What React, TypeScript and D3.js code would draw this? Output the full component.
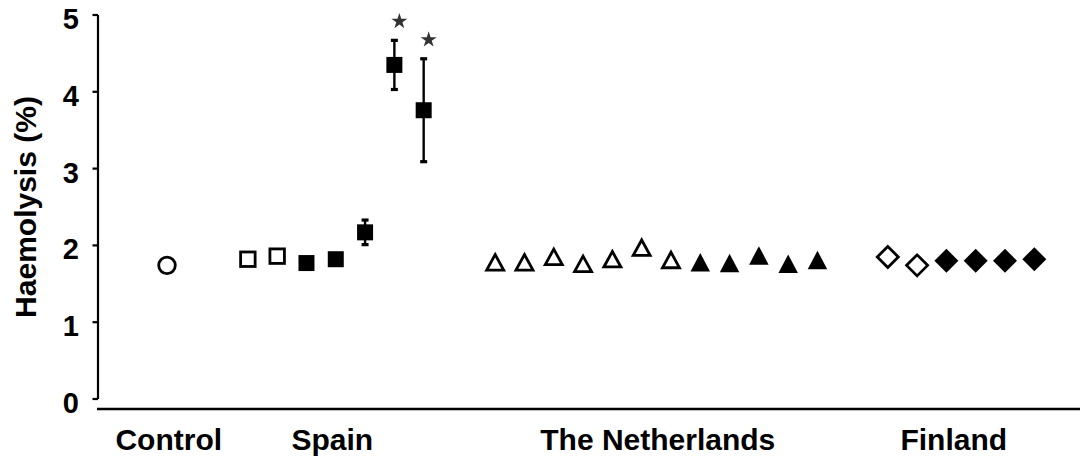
import React from "react";
import * as d3 from "d3";

// ---- data ----
const groups = ["Control", "Spain", "The Netherlands", "Finland"];
// position (in marker slots) where each group's first marker sits
const groupStart = [0, 2.76, 11.2, 24.6];
// position (in marker slots) of each group's label centre
const groupLabelSlot = [0.06, 5.64, 16.75, 26.85];

const controlValues = [1.74];
const controlFilled = [false];

const spainValues = [1.82, 1.86, 1.77, 1.82, 2.17, 4.35, 3.76];
const spainErrors = [0, 0, 0, 0, 0.16, 0.32, 0.67];
const spainFilled = [false, false, true, true, true, true, true];
const spainSignificant = [false, false, false, false, false, true, true];

const nlValues = [1.78, 1.78, 1.85, 1.76, 1.82, 1.97, 1.81, 1.78, 1.77, 1.87, 1.76, 1.81];
const nlFilled = [false, false, false, false, false, false, false, true, true, true, true, true];

const finValues = [1.85, 1.74, 1.8, 1.8, 1.8, 1.82];
const finFilled = [false, false, true, true, true, true];

const yTicks = [0, 1, 2, 3, 4, 5];
const yLabel = "Haemolysis (%)";

type Shape = "circle" | "square" | "triangle" | "diamond";
const groupShapes: Shape[] = ["circle", "square", "triangle", "diamond"];

interface Pt {
  slot: number;
  value: number;
  err: number;
  filled: boolean;
  sig: boolean;
  shape: Shape;
}

function buildPoints(): Pt[] {
  const sets = [
    { v: controlValues, f: controlFilled, e: [] as number[], s: [] as boolean[] },
    { v: spainValues, f: spainFilled, e: spainErrors, s: spainSignificant },
    { v: nlValues, f: nlFilled, e: [] as number[], s: [] as boolean[] },
    { v: finValues, f: finFilled, e: [] as number[], s: [] as boolean[] },
  ];
  const pts: Pt[] = [];
  sets.forEach((set, gi) => {
    set.v.forEach((v, i) => {
      pts.push({
        slot: groupStart[gi] + i,
        value: v,
        err: set.e[i] || 0,
        filled: set.f[i],
        sig: !!set.s[i],
        shape: groupShapes[gi],
      });
    });
  });
  return pts;
}

const points = buildPoints();

function Marker({ p, cx, cy }: { p: Pt; cx: number; cy: number }) {
  const fill = p.filled ? "#000" : "#fff";
  const stroke = "#000";
  const sw = p.filled ? 0 : 2.8;
  if (p.shape === "circle") {
    return <circle cx={cx} cy={cy} r={8.3} fill={fill} stroke={stroke} strokeWidth={2.8} />;
  }
  if (p.shape === "square") {
    const s = p.filled ? 16 : 14.5;
    return (
      <rect x={cx - s / 2} y={cy - s / 2} width={s} height={s} fill={fill} stroke={stroke} strokeWidth={sw} />
    );
  }
  if (p.shape === "triangle") {
    const w = p.filled ? 19.5 : 17;
    const h = p.filled ? 18.5 : 15.5;
    const d = `M${cx},${cy - h / 2}L${cx + w / 2},${cy + h / 2}L${cx - w / 2},${cy + h / 2}Z`;
    return <path d={d} fill={fill} stroke={stroke} strokeWidth={sw} strokeLinejoin="miter" />;
  }
  const r = p.filled ? 12 : 10.5;
  const d = `M${cx},${cy - r}L${cx + r},${cy}L${cx},${cy + r}L${cx - r},${cy}Z`;
  return <path d={d} fill={fill} stroke={stroke} strokeWidth={sw} />;
}

export default function App() {
  const width = 1080;
  const height = 461;
  const x = d3.scaleLinear().domain([0, 29.6]).range([167, 1034.3]);
  const y = d3.scaleLinear().domain([0, 5]).range([399, 15]);
  const axisX = 98;
  const star = d3.symbol().type(d3.symbolStar).size(80)();
  const font = "'Liberation Sans', Arial, sans-serif";

  return (
    <svg
      width={width}
      height={height}
      style={{ position: "absolute", left: 0, top: 0, background: "#fff" }}
      fontFamily={font}
    >
      <rect width={width} height={height} fill="#fff" />
      {/* y axis */}
      <line x1={axisX} x2={axisX} y1={y(5)} y2={y(0)} stroke="#000" strokeWidth={2.2} />
      {yTicks.map((t) => (
        <g key={t}>
          <line x1={axisX - 5.5} x2={axisX} y1={y(t)} y2={y(t)} stroke="#000" strokeWidth={2.2} />
          <text
            x={79}
            y={y(t) + 14}
            textAnchor="end"
            fontSize={29}
            fontWeight="bold"
            fill="#000"
          >
            {t}
          </text>
        </g>
      ))}
      <text
        transform={`translate(36, 207) rotate(-90)`}
        textAnchor="middle"
        fontSize={30}
        fontWeight="bold"
        fill="#000"
      >
        {yLabel}
      </text>

      {/* x axis */}
      <line x1={97} x2={width} y1={409} y2={409} stroke="#000" strokeWidth={2.6} />
      {groups.map((g, i) => (
        <text
          key={g}
          x={x(groupLabelSlot[i])}
          y={450}
          textAnchor="middle"
          fontSize={30}
          fontWeight="bold"
          fill="#000"
        >
          {g}
        </text>
      ))}

      {/* error bars */}
      {points
        .filter((p) => p.err > 0)
        .map((p, i) => {
          const cx = x(p.slot);
          return (
            <g key={"e" + i} stroke="#000">
              <line x1={cx} x2={cx} y1={y(p.value - p.err)} y2={y(p.value + p.err)} strokeWidth={2.4} />
              <line x1={cx - 3.5} x2={cx + 3.5} y1={y(p.value - p.err)} y2={y(p.value - p.err)} strokeWidth={3.2} />
              <line x1={cx - 3.5} x2={cx + 3.5} y1={y(p.value + p.err)} y2={y(p.value + p.err)} strokeWidth={3.2} />
            </g>
          );
        })}

      {/* markers */}
      {points.map((p, i) => (
        <Marker key={i} p={p} cx={x(p.slot)} cy={y(p.value)} />
      ))}

      {/* significance stars */}
      {points
        .filter((p) => p.sig)
        .map((p, i) => (
          <path
            key={"s" + i}
            d={star || ""}
            transform={`translate(${x(p.slot) + 5}, ${y(p.value + p.err) - 19})`}
            fill="#333"
          />
        ))}
    </svg>
  );
}
